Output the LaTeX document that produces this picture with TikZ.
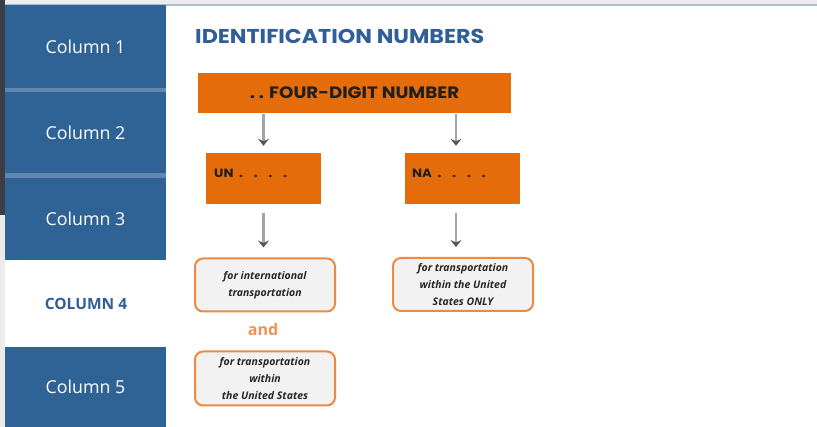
\documentclass[tikz,border=0pt]{standalone}
\usepackage{fontspec}
\setmainfont{Open Sans}
\newfontfamily\pop{Poppins}[FakeStretch=1.11]
\usetikzlibrary{arrows.meta,calc}
\definecolor{sideblue}{RGB}{48,99,149}
\definecolor{sepblue}{RGB}{98,135,178}
\definecolor{titleblue}{RGB}{47,95,150}
\definecolor{orangebox}{RGB}{228,108,10}
\definecolor{orangeline}{RGB}{237,138,66}
\definecolor{andorange}{RGB}{240,146,84}
\definecolor{boxfill}{RGB}{242,242,242}
\definecolor{arrgray}{RGB}{165,165,165}
\definecolor{headgray}{RGB}{85,85,85}
\definecolor{darkstrip}{RGB}{59,62,68}
\definecolor{bandgray}{RGB}{236,236,236}
\definecolor{bandline}{RGB}{170,190,212}
\tikzset{
  colbox/.style={fill=sideblue, minimum width=161pt, inner sep=0pt, text=white, font=\fontsize{17.8}{20}\selectfont},
  obox/.style={fill=orangebox, draw=none, inner sep=0pt},
  rbox/.style={draw=orangeline, line width=2pt, fill=boxfill, rounded corners=8pt, minimum width=140pt, align=center, inner sep=0pt,
     font=\fontsize{10.5}{17}\selectfont\bfseries\itshape, text=black!85},
  arr/.style={draw=arrgray, line width=2.6pt, -{Stealth[length=7pt,width=11pt,inset=2.5pt,color=headgray]}}
}
\begin{document}
\begin{tikzpicture}[x=1pt,y=-1pt]
\useasboundingbox (0,0) rectangle (817,427);
\fill[white] (0,0) rectangle (817,427);
% top band
\fill[bandgray] (0,0) rectangle (817,4);
\fill[bandline] (0,4) rectangle (817,6);
% left strips
\fill[bandgray] (0,215) rectangle (5,427);
\fill[darkstrip] (0,0) rectangle (5,215);
% sidebar
\fill[sepblue] (5,88) rectangle (166,92);
\fill[sepblue] (5,173) rectangle (166,178);
\node[colbox, minimum height=83pt] (c1) at (85.5,46.5) {Column 1};
\node[colbox, minimum height=81pt] (c2) at (85.5,132.5) {Column 2};
\node[colbox, minimum height=82pt] (c3) at (85.5,219) {Column 3};
\node[font=\fontsize{15.5}{18}\selectfont\bfseries, text=titleblue] (c4) at (86,303.5) {COLUMN 4};
\node[colbox, minimum height=80pt] (c5) at (85.5,387) {Column 5};
% title
\node[anchor=west, font=\pop\fontsize{20}{24}\selectfont\bfseries, text=titleblue, inner sep=0pt] (title) at (195,36) {IDENTIFICATION NUMBERS};
% top orange box
\node[obox, minimum width=313pt, minimum height=40pt, font=\pop\fontsize{16.5}{18}\selectfont\bfseries, text=black!88] (top) at (354.5,93) {.\hspace{4pt}.\hspace{5pt}FOUR-DIGIT NUMBER};
% UN / NA boxes
\node[obox, minimum width=115pt, minimum height=51pt] (un) at (263.5,178.5) {};
\node[obox, minimum width=115pt, minimum height=51pt] (na) at (462.5,178.5) {};
\node[anchor=west, font=\pop\fontsize{12}{14}\selectfont\bfseries, text=black!88, inner sep=0pt] (unt) at (214,173) {UN\hspace{5.5pt}.\hspace{11pt}.\hspace{11pt}.\hspace{11pt}.};
\node[anchor=west, font=\pop\fontsize{12}{14}\selectfont\bfseries, text=black!88, inner sep=0pt] (nat) at (412,173) {NA\hspace{5.5pt}.\hspace{11pt}.\hspace{11pt}.\hspace{11pt}.};
% rounded boxes
\node[rbox, minimum height=53pt] (intl) at (265,285) {for international\\transportation};
\node[rbox, minimum height=53pt] (only) at (463,284.5) {for transportation\\within the United\\States ONLY};
\node[font=\fontsize{16}{18}\selectfont\bfseries, text=andorange] (and) at (263,330) {and};
\node[rbox, minimum height=54pt] (within) at (265,378.5) {for transportation\\within\\the United States};
% arrows
\coordinate (a1) at ($(top.south -| un.north)+(0,1)$);
\coordinate (a2) at ($(top.south -| na.north)+(-6.5,1)$);
\draw[arr] (a1) -- ($(un.north)+(0,-7)$);
\draw[arr] (a2) -- ($(na.north)+(-6.5,-7)$);
\draw[arr] ($(un.south)+(0,9)$) -- ($(intl.north)+(-1.5,-10)$);
\draw[arr] ($(na.south)+(-6.5,9)$) -- ($(only.north)+(-7,-10)$);
\end{tikzpicture}
\end{document}
